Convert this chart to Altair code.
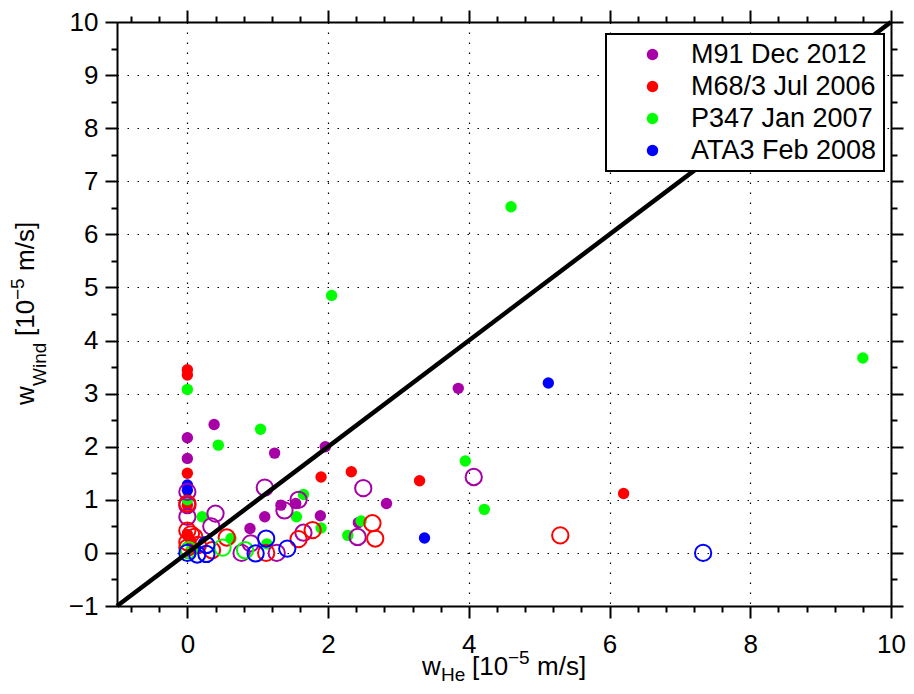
import altair as alt
import pandas as pd

SERIES = ["M91 Dec 2012", "M68/3 Jul 2006", "P347 Jan 2007", "ATA3 Feb 2008"]
COLORS = ["#A600A6", "#FF0000", "#00FF00", "#0000FF"]

# filled dots / open rings per campaign (units 1e-5 m/s)
m91_dot_x = [3.85, 0.38, 1.24, 1.96, 0.00, 0.00, 2.83, 1.89, 1.10, 0.89, 1.33, 1.54, 2.43]
m91_dot_y = [3.10, 2.42, 1.88, 2.00, 2.17, 1.78, 0.93, 0.70, 0.68, 0.46, 0.90, 0.93, 0.57]
m91_ring_x = [4.07, 2.50, 1.10, 1.58, 1.38, 0.40, 0.00, 0.00, 0.34, 2.42, 1.65, 0.90, 0.77, 1.27, 0.00]
m91_ring_y = [1.43, 1.22, 1.23, 1.00, 0.80, 0.74, 1.15, 0.68, 0.50, 0.30, 0.38, 0.18, 0.00, 0.00, 0.90]

m68_dot_x = [0.00, 0.00, 0.00, 1.90, 2.33, 3.30, 6.20, 0.00, 0.00, 0.05, 0.10]
m68_dot_y = [3.45, 3.35, 1.50, 1.43, 1.53, 1.36, 1.12, 0.90, 0.35, 0.22, 0.08]
m68_ring_x = [5.30, 2.63, 2.67, 1.78, 1.58, 1.12, 0.56, 0.00, 0.00, 0.10, 0.35, 0.00, 0.05, 0.00, 0.15]
m68_ring_y = [0.33, 0.56, 0.27, 0.43, 0.26, 0.00, 0.29, 0.93, 0.42, 0.30, 0.05, 0.20, 0.35, 0.10, 0.15]

p347_dot_x = [4.60, 2.05, 9.60, 0.00, 1.04, 0.44, 3.95, 4.22, 2.47, 2.28, 1.65, 1.55, 1.90, 0.21, 0.62, 1.13, 0.00, 0.05]
p347_dot_y = [6.52, 4.85, 3.67, 3.08, 2.33, 2.03, 1.73, 0.82, 0.60, 0.33, 1.10, 0.68, 0.47, 0.68, 0.27, 0.17, 1.00, 0.05]
p347_ring_x = [0.82, 0.02, 0.50]
p347_ring_y = [0.05, 0.05, 0.10]

ata3_dot_x = [5.13, 3.37, 0.00, 0.00]
ata3_dot_y = [3.20, 0.28, 1.28, 1.18]
ata3_ring_x = [7.33, 1.42, 1.12, 0.97, 0.00, 0.14, 0.27, 0.27]
ata3_ring_y = [0.00, 0.08, 0.27, -0.01, 0.00, -0.03, 0.15, -0.02]

diag_x = [-1, 10]
diag_y = [-1, 10]

x_ticks = [-0.8, -0.4, 0, 0.4, 0.8, 1.2, 1.6, 2, 2.4, 2.8, 3.2, 3.6, 4, 4.4, 4.8, 5.2,
           5.6, 6, 6.4, 6.8, 7.2, 7.6, 8, 8.4, 8.8, 9.2, 9.6, 10]
y_ticks = [-1, -0.5, 0, 0.5, 1, 1.5, 2, 2.5, 3, 3.5, 4, 4.5, 5, 5.5, 6, 6.5, 7, 7.5,
           8, 8.5, 9, 9.5, 10]


def build(xs, ys, name):
    return pd.DataFrame({"x": xs, "y": ys, "series": name})


dots = pd.concat([
    build(m91_dot_x, m91_dot_y, SERIES[0]),
    build(m68_dot_x, m68_dot_y, SERIES[1]),
    build(p347_dot_x, p347_dot_y, SERIES[2]),
    build(ata3_dot_x, ata3_dot_y, SERIES[3]),
], ignore_index=True)
rings = pd.concat([
    build(m91_ring_x, m91_ring_y, SERIES[0]),
    build(m68_ring_x, m68_ring_y, SERIES[1]),
    build(p347_ring_x, p347_ring_y, SERIES[2]),
    build(ata3_ring_x, ata3_ring_y, SERIES[3]),
], ignore_index=True)
diag = pd.DataFrame({"x": diag_x, "y": diag_y})

FONT = "Liberation Sans"
XMAJ = "abs(datum.value/2 - round(datum.value/2)) < 0.001"
YMAJ = "abs(datum.value - round(datum.value)) < 0.001"


def cond(test, a, b):
    return {"condition": {"test": test, "value": a}, "value": b}


xscale = alt.Scale(domain=[-1, 10], nice=False, zero=False)
yscale = alt.Scale(domain=[-1, 10], nice=False, zero=False)
cscale = alt.Scale(domain=SERIES, range=COLORS)

common = dict(domainColor="black", domainWidth=2, tickColor="black", tickWidth=2,
              labelFont=FONT, labelFontSize=26, labelColor="black", title=None,
              labelFlush=False, labelOverlap=False)

x_axis = alt.Axis(orient="bottom", values=x_ticks,
                  labelExpr=f"({XMAJ}) ? format(datum.value, 'd') : ''",
                  tickSize=cond(XMAJ, 12, 6), grid=True, gridColor="black",
                  gridDash=[1.5, 8.5], gridWidth=1.2, gridOpacity=cond(XMAJ, 1, 0),
                  labelPadding=13, **common)
y_axis = alt.Axis(orient="left", values=y_ticks,
                  labelExpr=f"({YMAJ}) ? format(datum.value, 'd') : ''",
                  tickSize=cond(YMAJ, 12, 6), grid=True, gridColor="black",
                  gridDash=[1.5, 8.5], gridWidth=1.2, gridOpacity=cond(YMAJ, 1, 0),
                  labelPadding=7, **common)
top_axis = alt.Axis(orient="top", values=x_ticks, labels=False, grid=False,
                    tickSize=cond(XMAJ, 12, 6), domainColor="black", domainWidth=2,
                    tickColor="black", tickWidth=2, title=None)
right_axis = alt.Axis(orient="right", values=y_ticks, labels=False, grid=False,
                      tickSize=cond(YMAJ, 12, 6), domainColor="black", domainWidth=2,
                      tickColor="black", tickWidth=2, title=None)

legend = alt.Legend(title=None, orient="none", legendX=489, legendY=12,
                    fillColor="white", strokeColor="black", padding=7,
                    symbolOffset=26, labelOffset=25, symbolSize=130,
                    symbolType="circle", symbolStrokeWidth=0,
                    labelFont=FONT, labelFontSize=27, labelColor="black",
                    rowPadding=4, labelLimit=400, cornerRadius=0)

filled = alt.Chart(dots).mark_circle(size=130, opacity=1).encode(
    x=alt.X("x:Q", scale=xscale, axis=x_axis),
    y=alt.Y("y:Q", scale=yscale, axis=y_axis),
    color=alt.Color("series:N", scale=cscale, legend=legend),
)
open_ = alt.Chart(rings).mark_point(shape="circle", filled=False, size=265,
                                    strokeWidth=2, opacity=1).encode(
    x=alt.X("x:Q", scale=xscale, axis=None),
    y=alt.Y("y:Q", scale=yscale, axis=None),
    color=alt.Color("series:N", scale=cscale, legend=None),
)
line = alt.Chart(diag).mark_line(color="black", strokeWidth=4.5).encode(
    x=alt.X("x:Q", scale=xscale, axis=None),
    y=alt.Y("y:Q", scale=yscale, axis=None),
)
frame = alt.Chart(diag).mark_point(opacity=0).encode(
    x=alt.X("x:Q", scale=xscale, axis=top_axis),
    y=alt.Y("y:Q", scale=yscale, axis=right_axis),
)

one = pd.DataFrame({"a": [0]})


def txt(s, x, y, size, angle=0):
    return alt.Chart(one).mark_text(text=s, font=FONT, fontSize=size, color="black",
                                    align="left", baseline="alphabetic",
                                    angle=angle).encode(x=alt.value(x), y=alt.value(y))


# x title: w_He [10^-5 m/s]
xt = [txt("w", 305, 653, 26), txt("He", 324, 659, 19), txt("[10", 355, 653, 26),
      txt("\u22125", 391, 642, 19), txt("m/s]", 420, 653, 26)]
# y title: w_Wind [10^-5 m/s], rotated
yt = [txt("w", -83, 383, 26, 270), txt("Wind", -71, 364, 19, 270),
      txt("[10", -83, 314, 26, 270), txt("\u22125", -93, 278, 19, 270),
      txt("m/s]", -83, 249, 26, 270)]

chart = alt.layer(filled, open_, line, frame, *xt, *yt).resolve_axis(
    x="independent", y="independent"
).properties(
    width=774, height=584,
    padding={"left": 109, "top": 14, "right": 15, "bottom": 75},
    autosize=alt.AutoSizeParams(type="none"),
).configure_view(stroke=None).configure(background="white")

try:
    chart.configure_legend(strokeWidth=2).save(
        "out.html", embed_options={"renderer": "svg", "actions": False})
except Exception:
    chart.save("out.html", embed_options={"renderer": "svg", "actions": False})
